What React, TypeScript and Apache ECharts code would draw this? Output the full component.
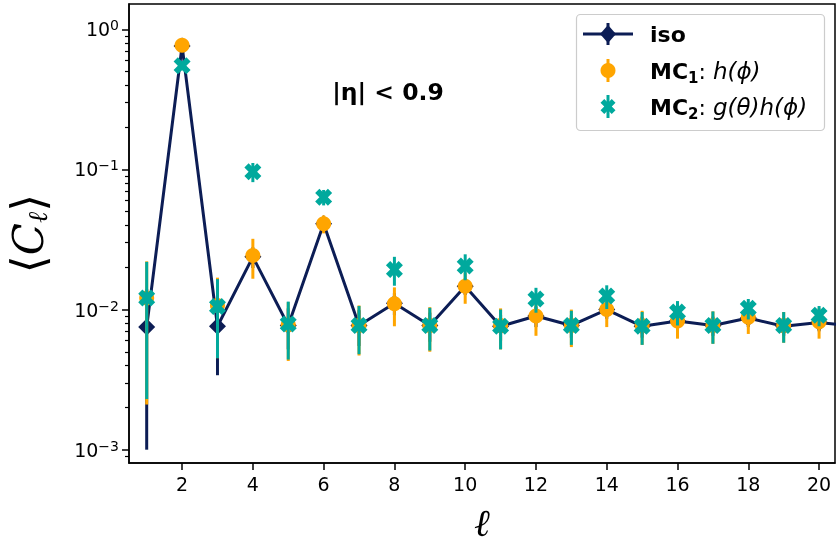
import React, { useEffect, useRef } from 'react';
import * as echarts from 'echarts';

// ---- data ----
const ell = [1, 2, 3, 4, 5, 6, 7, 8, 9, 10, 11, 12, 13, 14, 15, 16, 17, 18, 19, 20];
const isoVals = [0.0075, 0.76, 0.0076, 0.0238, 0.0077, 0.041, 0.0077, 0.0111, 0.0077, 0.0147, 0.0076, 0.0090, 0.0077, 0.0100, 0.0076, 0.0083, 0.0077, 0.0087, 0.0076, 0.0081];
const isoErr = [0.0065, 0.03, 0.0042, 0.004, 0.0025, 0.005, 0.0022, 0.002, 0.0018, 0.002, 0.0016, 0.0015, 0.0014, 0.0014, 0.0013, 0.0012, 0.0012, 0.0012, 0.0011, 0.0011];
// the iso line continues past the right edge towards ell = 21
const isoNextEll = 21;
const isoNextVal = 0.0076;
const mc1Vals = [0.0121, 0.77, 0.0107, 0.0243, 0.0078, 0.041, 0.0077, 0.011, 0.0077, 0.0147, 0.0077, 0.0090, 0.0077, 0.0100, 0.0077, 0.0083, 0.0077, 0.0088, 0.0077, 0.0082];
const mc1Err = [0.0100, 0.05, 0.0062, 0.0077, 0.0035, 0.006, 0.003, 0.0034, 0.0027, 0.0037, 0.0025, 0.0025, 0.0023, 0.0025, 0.0021, 0.0021, 0.002, 0.0021, 0.0019, 0.002];
const mc2Vals = [0.0121, 0.55, 0.0105, 0.0962, 0.0079, 0.0634, 0.0077, 0.0193, 0.0077, 0.0205, 0.0076, 0.0119, 0.0077, 0.0125, 0.0076, 0.0096, 0.0077, 0.0102, 0.0077, 0.0091];
const mc2Err = [0.0098, 0.04, 0.006, 0.015, 0.0035, 0.008, 0.0029, 0.0045, 0.0026, 0.0043, 0.0024, 0.0024, 0.0021, 0.0024, 0.002, 0.0019, 0.002, 0.0017, 0.0019, 0.0015];
const xTickValues = [2, 4, 6, 8, 10, 12, 14, 16, 18, 20];
const yMajorExponents = [-3, -2, -1, 0];

const NAVY = '#0c1d55';
const ORANGE = '#ffa500';
const TEAL = '#00a99d';
const FONT = 'DejaVu Sans';
const X_PATH = 'path://M2 8L4 6L6 8L8 6L6 4L8 2L6 0L4 2L2 0L0 2L2 4L0 6Z';
const X_POINTS = [[2, 8], [4, 6], [6, 8], [8, 6], [6, 4], [8, 2], [6, 0], [4, 2], [2, 0], [0, 2], [2, 4], [0, 6]];

const lg = (v: number) => Math.log10(v);

export default function App() {
  const ref = useRef<HTMLDivElement>(null);
  useEffect(() => {
    const chart = echarts.init(ref.current as HTMLDivElement, null, { renderer: 'svg' });
    const yMin = -3.095;
    const yMax = 0.181;
    const minor: number[] = [];
    for (let n = -4; n <= 0; n++) {
      for (let k = 2; k <= 9; k++) {
        const v = lg(k) + n;
        if (v > yMin && v < yMax) minor.push(v);
      }
    }
    const errData = (vals: number[], errs: number[]) =>
      ell.map((l, i) => [l, lg(Math.max(vals[i] - errs[i], 1e-6)), lg(vals[i] + errs[i])]);
    const errSeries = (name: string, vals: number[], errs: number[], color: string, z: number, yAxisIndex: number) => ({
      type: 'custom',
      name,
      yAxisIndex,
      data: errData(vals, errs),
      encode: { x: 0, y: [1, 2] },
      z,
      clip: true,
      silent: true,
      renderItem: (params: any, api: any) => {
        const p1 = api.coord([api.value(0), api.value(1)]);
        const p2 = api.coord([api.value(0), api.value(2)]);
        return {
          type: 'line',
          shape: { x1: p1[0], y1: p1[1], x2: p2[0], y2: p2[1] },
          style: { stroke: color, lineWidth: 3 },
        };
      },
    });

    const xSymbolPoints = (cx: number, cy: number, s: number) =>
      X_POINTS.map(([px, py]) => [cx + ((px - 4) / 8) * s, cy - ((py - 4) / 8) * s]);

    const lx = 608;
    const LF = 22;
    const legendRich = {
      b: { fontFamily: FONT, fontWeight: 'bold', fontSize: LF, fill: '#000', lineHeight: 28 },
      s: { fontFamily: FONT, fontWeight: 'bold', fontSize: 15, fill: '#000', verticalAlign: 'bottom', lineHeight: 15 },
      n: { fontFamily: FONT, fontSize: LF, fill: '#000', lineHeight: 28 },
      i: { fontFamily: FONT, fontStyle: 'italic', fontSize: 23, fill: '#000', lineHeight: 28 },
    };
    const legendGraphic = [
      {
        type: 'rect',
        shape: { x: 576.5, y: 14.5, width: 248, height: 116, r: 4 },
        style: { fill: 'rgba(255,255,255,0.8)', stroke: '#cccccc', lineWidth: 1.2 },
        z: 100,
      },
      { type: 'line', shape: { x1: 583, y1: 34, x2: 633, y2: 34 }, style: { stroke: NAVY, lineWidth: 3 }, z: 101 },
      { type: 'line', shape: { x1: lx, y1: 23, x2: lx, y2: 45 }, style: { stroke: NAVY, lineWidth: 3 }, z: 101 },
      {
        type: 'polygon',
        shape: { points: [[lx, 25], [lx + 8, 34], [lx, 43], [lx - 8, 34]] },
        style: { fill: NAVY },
        z: 102,
      },
      { type: 'line', shape: { x1: lx, y1: 59, x2: lx, y2: 82 }, style: { stroke: ORANGE, lineWidth: 3 }, z: 101 },
      { type: 'circle', shape: { cx: lx, cy: 70.5, r: 7.5 }, style: { fill: ORANGE }, z: 102 },
      { type: 'line', shape: { x1: lx, y1: 95, x2: lx, y2: 118 }, style: { stroke: TEAL, lineWidth: 3 }, z: 101 },
      { type: 'polygon', shape: { points: xSymbolPoints(lx, 106.5, 15) }, style: { fill: TEAL }, z: 102 },
      {
        type: 'text',
        x: 650,
        y: 34,
        z: 103,
        style: { text: '{b|iso}', verticalAlign: 'middle', rich: legendRich },
      },
      {
        type: 'text',
        x: 650,
        y: 71,
        z: 103,
        style: { text: '{b|MC}{s|1}{n|: }{i|h(ϕ)}', verticalAlign: 'middle', rich: legendRich },
      },
      {
        type: 'text',
        x: 650,
        y: 107,
        z: 103,
        style: { text: '{b|MC}{s|2}{n|: }{i|g(θ)h(ϕ)}', verticalAlign: 'middle', rich: legendRich },
      },
      {
        type: 'text',
        x: 388,
        y: 92,
        z: 103,
        style: {
          text: '|η| < 0.9',
          fontFamily: FONT,
          fontWeight: 'bold',
          fontSize: 23.5,
          fill: '#000',
          align: 'center',
          verticalAlign: 'middle',
        },
      },
    ];

    const option: any = {
      animation: false,
      grid: {
        left: 129,
        right: 1,
        top: 4,
        bottom: 81,
        show: true,
        borderColor: '#000',
        borderWidth: 1.5,
        backgroundColor: 'transparent',
        containLabel: false,
        outerBoundsMode: 'none',
      },
      xAxis: {
        type: 'value',
        min: 0.5,
        max: 20.45,
        name: 'ℓ',
        nameLocation: 'middle',
        nameGap: 42,
        nameTextStyle: { fontFamily: 'DejaVu Serif', fontStyle: 'italic', fontSize: 38, lineHeight: 36, color: '#000' },
        axisLine: { show: true, onZero: false, lineStyle: { color: '#000', width: 1.5 } },
        axisTick: { show: true, customValues: xTickValues, length: 7, lineStyle: { color: '#000', width: 1.5 } },
        axisLabel: { customValues: xTickValues, fontFamily: FONT, fontSize: 19, color: '#000', margin: 11 },
        splitLine: { show: false },
      },
      yAxis: [
        {
          type: 'value',
          min: yMin,
          max: yMax,
          name: '{a|⟨}{c|C}{l|ℓ}{a|⟩}',
          nameLocation: 'middle',
          nameRotate: 90,
          nameGap: 78,
          nameTextStyle: {
            rich: {
              a: { fontFamily: 'DejaVu Serif', fontSize: 46, color: '#000' },
              c: { fontFamily: 'DejaVu Serif', fontStyle: 'italic', fontSize: 42, color: '#000' },
              l: { fontFamily: 'DejaVu Serif', fontStyle: 'italic', fontSize: 27, color: '#000', verticalAlign: 'bottom', lineHeight: 30 },
            },
          },
          axisLine: { show: true, onZero: false, lineStyle: { color: '#000', width: 1.5 } },
          axisTick: { show: true, customValues: yMajorExponents, length: 7, lineStyle: { color: '#000', width: 1.5 } },
          axisLabel: {
            customValues: yMajorExponents,
            margin: 10,
            formatter: (v: number) => {
              const e = Math.round(v);
              return '{b|10}{s|' + (e < 0 ? '\u2212' + -e : String(e)) + '}';
            },
            rich: {
              b: { fontFamily: FONT, fontSize: 19, color: '#000', lineHeight: 22 },
              s: { fontFamily: FONT, fontSize: 14, color: '#000', verticalAlign: 'top', lineHeight: 13 },
            },
          },
          splitLine: { show: false },
        },
        {
          type: 'value',
          min: yMin,
          max: yMax,
          position: 'left',
          offset: 0,
          axisLine: { show: false, onZero: false },
          axisTick: { show: true, customValues: minor, length: 4, lineStyle: { color: '#000', width: 1.2 } },
          axisLabel: { show: false },
          splitLine: { show: false },
        },
      ],
      series: [
        errSeries('iso-err', isoVals, isoErr, NAVY, 2, 0),
        {
          type: 'line',
          name: 'iso',
          data: [...ell.map((l, i) => [l, lg(isoVals[i])]), [isoNextEll, lg(isoNextVal)]],
          symbol: 'diamond',
          symbolSize: 17,
          showAllSymbol: true,
          clip: true,
          itemStyle: { color: NAVY },
          lineStyle: { color: NAVY, width: 3 },
          z: 3,
        },
        errSeries('mc1-err', mc1Vals, mc1Err, ORANGE, 4, 0),
        {
          type: 'scatter',
          name: 'MC1',
          data: ell.map((l, i) => [l, lg(mc1Vals[i])]),
          symbol: 'circle',
          symbolSize: 15,
          itemStyle: { color: ORANGE, opacity: 1 },
          z: 5,
        },
        errSeries('mc2-err', mc2Vals, mc2Err, TEAL, 6, 1),
        {
          type: 'scatter',
          name: 'MC2',
          yAxisIndex: 1,
          data: ell.map((l, i) => [l, lg(mc2Vals[i])]),
          symbol: X_PATH,
          symbolSize: 17,
          itemStyle: { color: TEAL, opacity: 1 },
          z: 7,
        },
      ],
      graphic: legendGraphic,
    };
    chart.setOption(option);
    return () => chart.dispose();
  }, []);
  return <div ref={ref} style={{ position: 'fixed', left: 0, top: 0, width: 836, height: 544 }} />;
}
